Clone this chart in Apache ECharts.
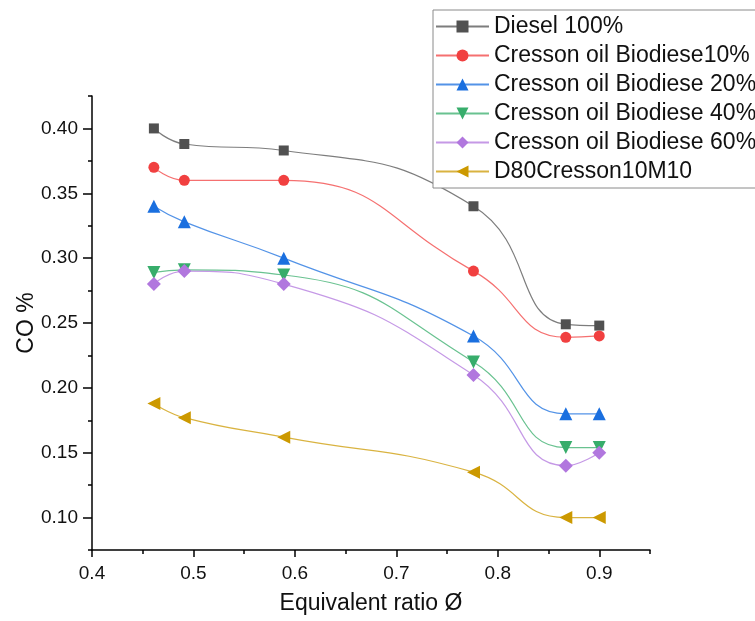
<!DOCTYPE html>
<html>
<head>
<meta charset="utf-8">
<title>CO %</title>
<script src="https://cdn.jsdelivr.net/npm/echarts@6/dist/echarts.min.js"></script>
<style>
  html, body { margin: 0; padding: 0; background: #fff; }
  #chart { width: 755px; height: 621px; }
</style>
</head>
<body>
<div id="chart"></div>
<script>
// 当量比 (x) 与各燃料的 CO 数据
const ratio = [0.461, 0.491, 0.589, 0.776, 0.867, 0.9];
const diesel100 = [0.400, 0.388, 0.383, 0.340, 0.249, 0.248];
const cresson10 = [0.370, 0.360, 0.360, 0.290, 0.239, 0.240];
const cresson20 = [0.340, 0.328, 0.300, 0.240, 0.180, 0.180];
const cresson40 = [0.289, 0.291, 0.287, 0.220, 0.154, 0.154];
const cresson60 = [0.280, 0.290, 0.280, 0.210, 0.140, 0.150];
const d80c10m10 = [0.188, 0.177, 0.162, 0.135, 0.100, 0.100];

const names = ['Diesel 100%', 'Cresson oil Biodiese10%', 'Cresson oil Biodiese 20%',
  'Cresson oil Biodiese 40%', 'Cresson oil Biodiese 60%', 'D80Cresson10M10'];

const xTicks = [0.4, 0.5, 0.6, 0.7, 0.8, 0.9];
const yTicks = [0.10, 0.15, 0.20, 0.25, 0.30, 0.35, 0.40];

const font = 'Liberation Sans, Arial, sans-serif';

function pairs(ys) {
  return ys.map((v, i) => [ratio[i], v]);
}

// 每条线: 数据, 颜色, 符号
const lines = [
  { data: diesel100, color: '#515151', symbol: 'rect', size: 10, rotate: 0 },
  { data: cresson10, color: '#F14040', symbol: 'circle', size: 11, rotate: 0 },
  { data: cresson20, color: '#1A6FDF', symbol: 'triangle', size: 13, rotate: 0 },
  { data: cresson40, color: '#37AD6B', symbol: 'triangle', size: 13, rotate: 180 },
  { data: cresson60, color: '#B177DE', symbol: 'diamond', size: 14, rotate: 0 },
  { data: d80c10m10, color: '#CC9900', symbol: 'triangle', size: 13, rotate: 90 }
];

let myChart = echarts.init(document.getElementById('chart'));

let option = {
  backgroundColor: '#fff',
  animation: false,
  grid: {
    left: 92,
    right: 105,
    top: 96,
    bottom: 71,
    containLabel: false
  },
  legend: {
    left: 433,
    top: 10,
    orient: 'vertical',
    itemWidth: 53,
    itemHeight: 15,
    itemGap: 6,
    padding: [5, 8, 5, 2],
    borderColor: '#8a8a8a',
    borderWidth: 1,
    backgroundColor: '#fff',
    textStyle: {
      fontFamily: font,
      fontSize: 23,
      lineHeight: 23,
      color: '#111'
    },
    data: names
  },
  xAxis: [{
    type: 'value',
    min: 0.4,
    max: 0.95,
    interval: 0.05,
    name: 'Equivalent ratio Ø',
    nameLocation: 'middle',
    nameGap: 42,
    nameMoveOverlap: false,
    nameTextStyle: { fontFamily: font, fontSize: 23, color: '#111' },
    axisLine: { show: true, onZero: false, lineStyle: { color: '#000', width: 1.5 } },
    axisTick: { show: true, length: 4, lineStyle: { color: '#000', width: 1.5 } },
    axisLabel: {
      customValues: xTicks,
      fontFamily: font,
      fontSize: 19,
      color: '#111',
      margin: 14,
      formatter: v => v.toFixed(1)
    },
    splitLine: { show: false }
  }, {
    // 主刻度(长)
    type: 'value',
    min: 0.4,
    max: 0.95,
    position: 'bottom',
    axisLine: { show: false },
    axisTick: { show: true, customValues: xTicks, length: 7, lineStyle: { color: '#000', width: 1.5 } },
    axisLabel: { show: false },
    splitLine: { show: false }
  }],
  yAxis: [{
    type: 'value',
    min: 0.075,
    max: 0.425,
    interval: 0.025,
    name: 'CO %',
    nameLocation: 'middle',
    nameGap: 54,
    nameMoveOverlap: false,
    nameTextStyle: { fontFamily: font, fontSize: 23, color: '#111' },
    axisLine: { show: true, onZero: false, lineStyle: { color: '#000', width: 1.5 } },
    axisTick: { show: true, length: 4, lineStyle: { color: '#000', width: 1.5 } },
    axisLabel: {
      customValues: yTicks,
      fontFamily: font,
      fontSize: 19,
      color: '#111',
      margin: 14,
      formatter: v => v.toFixed(2)
    },
    splitLine: { show: false }
  }, {
    type: 'value',
    min: 0.075,
    max: 0.425,
    position: 'left',
    axisLine: { show: false },
    axisTick: { show: true, customValues: yTicks, length: 9, lineStyle: { color: '#000', width: 1.5 } },
    axisLabel: { show: false },
    splitLine: { show: false }
  }],
  series: lines.map((l, i) => ({
    name: names[i],
    type: 'line',
    xAxisIndex: 0,
    yAxisIndex: 0,
    smooth: 0.5,
    data: pairs(l.data),
    symbol: l.symbol,
    symbolSize: l.size,
    symbolRotate: l.rotate,
    showAllSymbol: true,
    z: 2 + i,
    itemStyle: { color: l.color, opacity: 1 },
    lineStyle: { color: l.color, width: 1.2, opacity: 0.75 }
  }))
};

myChart.setOption(option);
</script>
</body>
</html>
